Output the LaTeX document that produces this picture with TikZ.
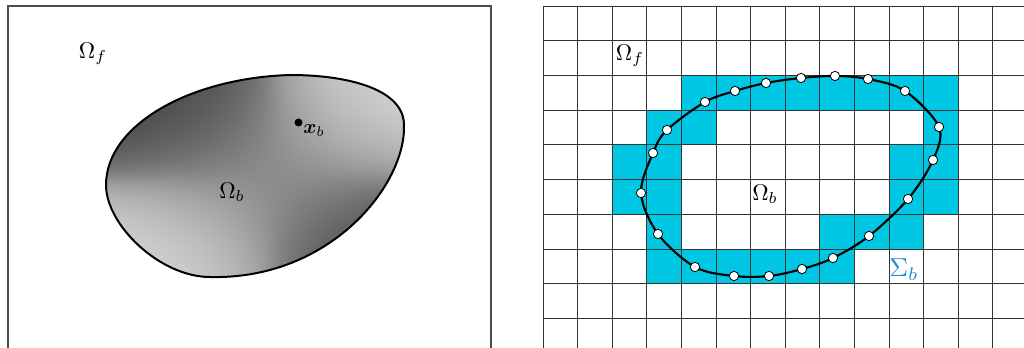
\documentclass[tikz,border=0pt]{standalone}
\usepackage{amsmath,bm}
\definecolor{cellcyan}{RGB}{0,200,228}
\definecolor{sigmablue}{RGB}{31,140,214}
\pgfdeclarefunctionalshading{saddle}{\pgfpoint{-50bp}{-50bp}}{\pgfpoint{50bp}{50bp}}{}{
  dup 3 1 roll mul 0.0045 mul exch -0.013 mul add
  dup abs 1 add div 0.4 mul 0.55 add
  dup dup
}
\tikzset{
  frameline/.style={draw=black!70, line width=0.9pt},
  gridline/.style={draw=black!80, line width=0.7pt},
  blobline/.style={draw=black, line width=1.5pt},
  curveline/.style={draw=black, line width=1.6pt},
  ptnode/.style={circle, draw=black, fill=white, line width=0.6pt, minimum size=7pt, inner sep=0pt},
  dotnode/.style={circle, fill=black, minimum size=6pt, inner sep=0pt},
  lbl/.style={scale=1.7, inner sep=0pt},
  smalllbl/.style={scale=1.5, inner sep=0pt},
  cell/.style={fill=cellcyan}
}
\begin{document}
\begin{tikzpicture}[x=0.75pt,y=-0.75pt]
\useasboundingbox (0,0) rectangle (1024,348);
% ---------- left panel ----------
\draw[frameline] (8,348) -- (8,6) -- (491,6) -- (491,348);
\path[blobline, shading=saddle]
  (106,185) .. controls (106,125) and (190,78) .. (290,75)
            .. controls (350,75) and (404,90) .. (404,125)
            .. controls (406,185) and (330,280) .. (210,277)
            .. controls (160,277) and (106,225) .. cycle;
\node[lbl] (of1) at (93,54) {$\Omega_f$};
\node[lbl] (ob1) at (232,192) {$\Omega_b$};
\node[dotnode] (xb) at (298.5,122.5) {};
\node[smalllbl] (xbl) at (314,131) {$\bm{x}_b$};
% ---------- right panel ----------
\foreach \c/\r in {4/2,5/2,6/2,7/2,8/2,9/2,10/2,11/2,
                   3/3,4/3,11/3,
                   2/4,3/4,10/4,11/4,
                   2/5,3/5,10/5,11/5,
                   3/6,8/6,9/6,10/6,
                   3/7,4/7,5/7,6/7,7/7,8/7}
  \fill[cell] ({543+34.6*\c},{6+34.74*\r}) rectangle ++(34.6,34.74);
\foreach \k in {0,...,13}
  \draw[gridline] ({543+34.6*\k},6) -- ({543+34.6*\k},348);
\foreach \k in {0,...,9}
  \draw[gridline] (543,{6+34.74*\k}) -- (1024,{6+34.74*\k});
\foreach \i/\x/\y in {1/801/78,2/835/76,3/868/79,4/905/91,5/939/127,
   6/933/160,7/908/199,8/869/236,9/833/258,10/802/269,11/769/276,
   12/734/276,13/695/267,14/658/234,15/641/193,16/653/153,17/667/130,
   18/705/102,19/735/91,20/766/83}
  \coordinate (p\i) at (\x,\y);
\draw[curveline] plot[smooth cycle, tension=0.55] coordinates {
 (p1) (p2) (p3) (p4) (p5) (p6) (p7) (p8) (p9) (p10)
 (p11) (p12) (p13) (p14) (p15) (p16) (p17) (p18) (p19) (p20)};
\foreach \i in {1,...,20}
  \node[ptnode] (m\i) at (p\i) {};
\node[lbl] (of2) at (630,56) {$\Omega_f$};
\node[lbl] (ob2) at (765,194) {$\Omega_b$};
\node[scale=1.95, inner sep=0pt, text=sigmablue] (sb) at (904,270) {$\Sigma_b$};
\end{tikzpicture}
\end{document}
